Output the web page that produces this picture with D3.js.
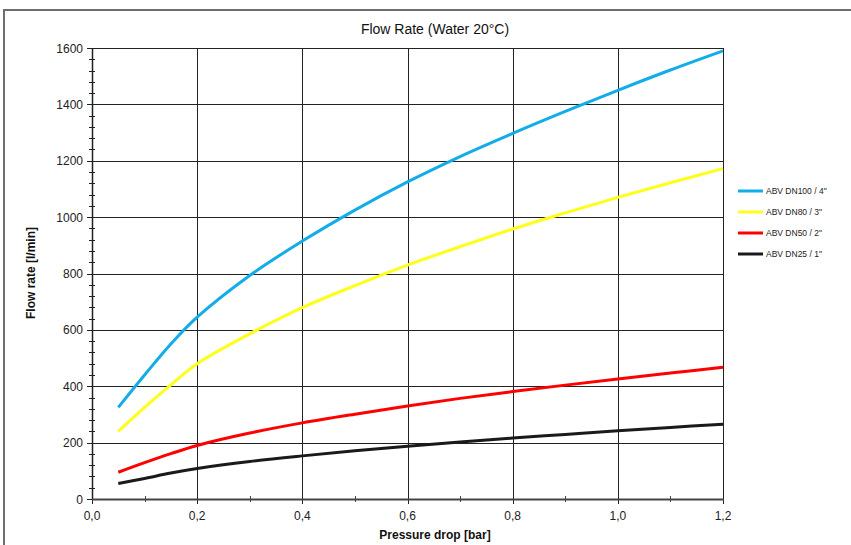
<!DOCTYPE html>
<html><head><meta charset="utf-8">
<script src="https://cdn.jsdelivr.net/npm/d3@7"></script>
<style>body{margin:0;background:#fff}svg{display:block;font-family:"Liberation Sans",Arial,sans-serif}</style>
</head><body><svg id="c" width="851" height="545"></svg>
<script>
const pressure = [0.05,0.1,0.15,0.2,0.3,0.4,0.5,0.6,0.7,0.8,0.9,1.0,1.1,1.2];
const dn100 = [325,440,550,645,793,915,1025,1125,1215,1297,1375,1450,1522,1590];
const dn80  = [240,325,405,480,586,679,757,830,895,958,1015,1070,1122,1172];
const dn50  = [95,129,161,190,234,270,301,330,357,381,404,426,447,467];
const dn25  = [55,73,92,108,133,153,171,187,202,216,229,242,254,265];
const seriesNames = ['ABV DN100 / 4"','ABV DN80 / 3"','ABV DN50 / 2"','ABV DN25 / 1"'];
const seriesColors = ['#12ade8','#ffff1a','#ff0000','#1a1a1a'];
const xTicks = [0,0.2,0.4,0.6,0.8,1.0,1.2];
const yTicks = [0,200,400,600,800,1000,1200,1400,1600];

const svg = d3.select('#c');
const L=92,R=723,T=48,B=499;
const x = d3.scaleLinear().domain([0,1.2]).range([L,R]);
const y = d3.scaleLinear().domain([0,1600]).range([B,T]);

// outer frame
svg.append('path').attr('d','M4,560 L4,10 L860,10').attr('fill','none').attr('stroke','#6e6e6e').attr('stroke-width',2);

// title
svg.append('text').attr('x',435).attr('y',34).attr('text-anchor','middle').attr('font-size',14).attr('fill','#111').text('Flow Rate (Water 20°C)');

// grid
const g = svg.append('g');
g.selectAll('.vg').data(xTicks.slice(1)).join('line')
  .attr('x1',d=>Math.round(x(d))+0.5).attr('x2',d=>Math.round(x(d))+0.5).attr('y1',T).attr('y2',B)
  .attr('stroke','#222').attr('stroke-width',1);
g.selectAll('.hg').data(yTicks.slice(1)).join('line')
  .attr('x1',L).attr('x2',R).attr('y1',d=>Math.round(y(d))+0.5).attr('y2',d=>Math.round(y(d))+0.5)
  .attr('stroke','#222').attr('stroke-width',1);

// y axis
const yMinor = d3.range(0,1601,40);
const ya = svg.append('g');
ya.selectAll('line.mn').data(yMinor).join('line')
  .attr('x1',L-3).attr('x2',L+3).attr('y1',d=>Math.round(y(d))+0.5).attr('y2',d=>Math.round(y(d))+0.5)
  .attr('stroke','#222').attr('stroke-width',1);
ya.selectAll('line.mj').data(yTicks).join('line').attr('class','mj')
  .attr('x1',L-5).attr('x2',L).attr('y1',d=>Math.round(y(d))+0.5).attr('y2',d=>Math.round(y(d))+0.5)
  .attr('stroke','#222');
ya.append('line').attr('x1',L+0.5).attr('x2',L+0.5).attr('y1',T).attr('y2',B).attr('stroke','#222').attr('stroke-width',1.5);
ya.selectAll('text').data(yTicks).join('text')
  .attr('x',L-9).attr('y',d=>y(d)+4.5).attr('text-anchor','end').attr('font-size',12).attr('fill','#222')
  .text(d=>d);

// x axis
const xMinor = d3.range(0.1,1.2,0.2);
const xa = svg.append('g');
xa.selectAll('line.mn').data(xMinor).join('line')
  .attr('x1',d=>Math.round(x(d))+0.5).attr('x2',d=>Math.round(x(d))+0.5).attr('y1',B-3).attr('y2',B+3)
  .attr('stroke','#444');
xa.selectAll('line.mj').data(xTicks).join('line').attr('class','mj')
  .attr('x1',d=>Math.round(x(d))+0.5).attr('x2',d=>Math.round(x(d))+0.5).attr('y1',B).attr('y2',B+5)
  .attr('stroke','#222');
xa.append('line').attr('x1',L).attr('x2',R+1).attr('y1',B+0.5).attr('y2',B+0.5).attr('stroke','#444').attr('stroke-width',2);
xa.selectAll('text').data(xTicks).join('text')
  .attr('x',d=>x(d)).attr('y',B+21).attr('text-anchor','middle').attr('font-size',12).attr('fill','#222')
  .text(d=>d.toFixed(1).replace('.',','));

// axis titles
svg.append('text').attr('x',435).attr('y',539).attr('text-anchor','middle').attr('font-size',12).attr('font-weight','bold').attr('fill','#111').text('Pressure drop [bar]');
svg.append('text').attr('transform','translate(35,273) rotate(-90)').attr('text-anchor','middle').attr('font-size',12).attr('font-weight','bold').attr('fill','#111').text('Flow rate [l/min]');

// lines
const all = [dn100,dn80,dn50,dn25];
const line = d3.line().x((d,i)=>x(pressure[i])).y(d=>y(d)).curve(d3.curveCatmullRom.alpha(0.5));
svg.append('g').selectAll('path').data(all.slice().reverse()).join('path')
  .attr('d',d=>line(d)).attr('fill','none')
  .attr('stroke',(d,i)=>seriesColors[3-i]).attr('stroke-width',3);

// legend
const lg = svg.append('g');
seriesNames.forEach((n,i)=>{
  const yy = 191 + i*21;
  lg.append('line').attr('x1',738).attr('x2',763).attr('y1',yy).attr('y2',yy).attr('stroke',seriesColors[i]).attr('stroke-width',3);
  lg.append('text').attr('x',766).attr('y',yy+3).attr('font-size',8.5).attr('fill','#222').text(n);
});
</script></body></html>
